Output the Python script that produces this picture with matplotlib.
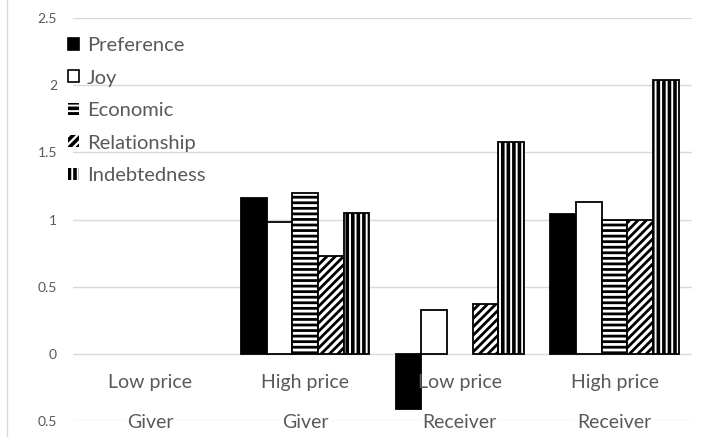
import matplotlib
matplotlib.use("Agg")
import matplotlib.pyplot as plt
import numpy as np
from matplotlib.lines import Line2D
from matplotlib.patches import Patch

plt.rcParams['font.family'] = ['Lato', 'DejaVu Sans']

categories = ["Low price", "High price", "Low price", "High price"]
groups = ["Giver", "Giver", "Receiver", "Receiver"]
series = ["Preference", "Joy", "Economic", "Relationship", "Indebtedness"]
preference = [0.0, 1.16, -0.41, 1.04]
joy = [0.0, 0.98, 0.33, 1.13]
economic = [0.0, 1.20, 0.0, 1.00]
relationship = [0.0, 0.73, 0.37, 1.00]
indebtedness = [0.0, 1.05, 1.58, 2.04]
ytick_values = [-0.5, 0, 0.5, 1, 1.5, 2, 2.5]
ytick_labels = ["0.5", "0", "0.5", "1", "1.5", "2", "2.5"]

values = [preference, joy, economic, relationship, indebtedness]
styles = [
    dict(facecolor="black", hatch=None, hlw=1.0, legend_lw=1.2),
    dict(facecolor="white", hatch=None, hlw=1.0, legend_lw=1.2),
    dict(facecolor="white", hatch="---", hlw=2.0, legend_lw=0),
    dict(facecolor="white", hatch="////", hlw=2.0, legend_lw=0),
    dict(facecolor="white", hatch="|||", hlw=2.6, legend_lw=0),
]

W, H = 726, 437
fig = plt.figure(figsize=(W / 100, H / 100), dpi=100)
ax = fig.add_axes([73 / W, 1 - 421 / H, (692 - 73) / W, (421 - 18) / H])

x = np.arange(len(categories))
bw = 0.166
gray = "#595959"
handles = []
plt.rcParams['hatch.color'] = "black"
for i, (name, vals, st) in enumerate(zip(series, values, styles)):
    plt.rcParams['hatch.linewidth'] = st["hlw"]
    bars = ax.bar(x + (i - 2) * bw, vals, bw, facecolor=st["facecolor"],
                  edgecolor="black", linewidth=1.3, hatch=st["hatch"],
                  zorder=3)
    for b, v in zip(bars, vals):
        if hasattr(b, "set_hatch_linewidth"):
            b.set_hatch_linewidth(st["hlw"])
        if v == 0:
            b.set_visible(False)
    h = Patch(facecolor=st["facecolor"], edgecolor="black",
              linewidth=st["legend_lw"], hatch=st["hatch"], label=name)
    if hasattr(h, "set_hatch_linewidth"):
        h.set_hatch_linewidth(st["hlw"])
    handles.append(h)

ax.set_xlim(-0.5, len(categories) - 0.5)
ax.set_ylim(-0.5, 2.5)
ax.set_yticks(ytick_values)
ax.set_yticklabels(ytick_labels, color=gray, fontsize=10)
ax.tick_params(axis="y", length=0, pad=11.5)
ax.set_xticks([])
ax.grid(axis="y", color="#d9d9d9", linewidth=1.0, zorder=0)
ax.set_axisbelow(True)
for s in ax.spines.values():
    s.set_visible(False)

for xi, cat, grp in zip(x, categories, groups):
    ax.text(xi, -0.21, cat, ha="center", va="center", fontsize=14, color=gray)
    ax.text(xi, -0.5, grp, ha="center", va="center_baseline", fontsize=14,
            color=gray, bbox=dict(facecolor="white", edgecolor="none", pad=1.5),
            zorder=4)

leg = fig.legend(handles=handles, labels=series, loc="upper left",
                 bbox_to_anchor=(68 / W, 1 - 37 / H), frameon=False,
                 fontsize=14.5, labelcolor=gray, handlelength=0.55,
                 handleheight=0.55, handletextpad=0.4, labelspacing=0.77,
                 borderpad=0, borderaxespad=0)

fig.add_artist(Line2D([7 / W, 7 / W], [0, 1], color="#d9d9d9", linewidth=1.0,
                      transform=fig.transFigure))

fig.savefig("out.png", dpi=100)
